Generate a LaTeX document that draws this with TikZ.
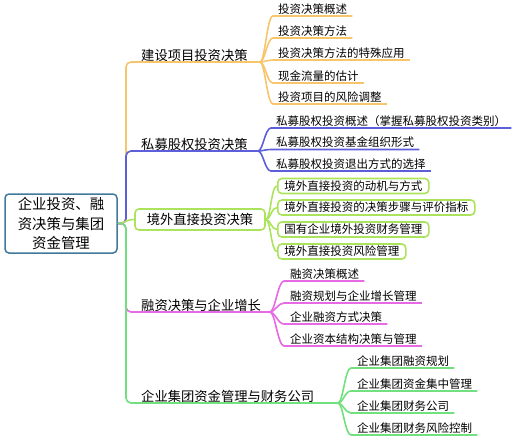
\documentclass[tikz,border=0pt]{standalone}
\usepackage{fontspec}
\setmainfont{Noto Sans CJK SC}
\usetikzlibrary{calc}
\definecolor{cA}{HTML}{F7C56C}
\definecolor{cB}{HTML}{5C5EDA}
\definecolor{cC}{HTML}{ABE45C}
\definecolor{cD}{HTML}{E56AE3}
\definecolor{cE}{HTML}{72E07E}
\definecolor{rootc}{HTML}{41789B}
\begin{document}
\begin{tikzpicture}[x=1pt,y=-1pt,
  rootbox/.style={draw=rootc, line width=1.5pt, rounded corners=4pt, fill=white,
    minimum width=112pt, minimum height=59pt, align=center, inner sep=0pt,
    font=\fontsize{14.4}{19.5}\selectfont},
  mainlbl/.style={anchor=west, inner sep=0pt, font=\fontsize{13.3}{16}\selectfont},
  mainbox/.style={draw=cC, line width=1.6pt, rounded corners=4pt, fill=white,
    minimum width=130pt, minimum height=21pt, inner sep=0pt, font=\fontsize{13.3}{16}\selectfont},
  leaf/.style={anchor=west, inner sep=0pt, font=\fontsize{11.5}{14}\selectfont},
  leafbox/.style={anchor=west, draw=cC, line width=1.6pt, rounded corners=4pt, fill=white,
    inner xsep=6.5pt, inner ysep=0pt, minimum height=15pt, font=\fontsize{11.5}{14}\selectfont},
  lnA/.style={draw=cA, line width=1.6pt},
  lnB/.style={draw=cB, line width=1.6pt},
  lnC/.style={draw=cC, line width=1.6pt},
  lnD/.style={draw=cD, line width=1.6pt},
  lnE/.style={draw=cE, line width=1.6pt}]
\useasboundingbox (0,0) rectangle (525,442);

% root
\node[rootbox] (root) at (61,223.5) {企业投资、融\\资决策与集团\\资金管理};

% main branches
\node[mainlbl] (m1) at (141,55) {建设项目投资决策};
\node[mainlbl] (m2) at (141,144) {私募股权投资决策};
\node[mainbox] (m3) at (200,219.5) {境外直接投资决策};
\node[mainlbl] (m4) at (141,305) {融资决策与企业增长};
\node[mainlbl] (m5) at (141,396) {企业集团资金管理与财务公司};

\coordinate (f1) at (260,62);
\coordinate (f2) at (258,151);
\coordinate (f4) at (270,312);
\coordinate (f5) at (338,403);

\draw[lnA, rounded corners=5pt] (root.east) -- (126,223.5) -- (126,62) -- (f1);
\draw[lnB, rounded corners=5pt] (root.east) -- (126,223.5) -- (126,151) -- (f2);
\draw[lnC] (root.east) .. controls (124,223.5) and (126,219.5) .. (m3.west);
\draw[lnD, rounded corners=5pt] (root.east) -- (126,223.5) -- (126,312) -- (f4);
\draw[lnE, rounded corners=5pt] (root.east) -- (126,223.5) -- (126,403) -- (f5);

% group 1
\node[leaf] (a1) at (278,9) {投资决策概述};
\node[leaf] (a2) at (278,31) {投资决策方法};
\node[leaf] (a3) at (278,53) {投资决策方法的特殊应用};
\node[leaf] (a4) at (278,76) {现金流量的估计};
\node[leaf] (a5) at (278,97) {投资项目的风险调整};
\foreach \n in {a1,a2,a3,a4,a5}
  \draw[lnA] (f1) .. controls +(5,0) and +(-6,0) .. ($(\n.west)+(-5,7)$) -- ($(\n.east)+(5,7)$);

% group 2
\node[leaf] (b1) at (276,121) {私募股权投资概述（掌握私募股权投资类别）};
\node[leaf] (b2) at (276,142.5) {私募股权投资基金组织形式};
\node[leaf] (b3) at (276,164) {私募股权投资退出方式的选择};
\foreach \n in {b1,b2,b3}
  \draw[lnB] (f2) .. controls +(5,0) and +(-6,0) .. ($(\n.west)+(-5,7)$) -- ($(\n.east)+(5,7)$);

% group 3
\node[leafbox] (c1) at (277,186) {境外直接投资的动机与方式};
\node[leafbox] (c2) at (277,207.5) {境外直接投资的决策步骤与评价指标};
\node[leafbox] (c3) at (277,229.5) {国有企业境外投资财务管理};
\node[leafbox] (c4) at (277,251.5) {境外直接投资风险管理};
\foreach \n in {c1,c2,c3,c4}
  \draw[lnC] (m3.east) .. controls +(5,0) and +(-6,0) .. (\n.west);

% group 4
\node[leaf] (d1) at (290,274) {融资决策概述};
\node[leaf] (d2) at (290,296) {融资规划与企业增长管理};
\node[leaf] (d3) at (290,317) {企业融资方式决策};
\node[leaf] (d4) at (290,339) {企业资本结构决策与管理};
\foreach \n in {d1,d2,d3,d4}
  \draw[lnD] (f4) .. controls +(5,0) and +(-6,0) .. ($(\n.west)+(-6,7)$) -- ($(\n.east)+(5,7)$);

% group 5
\node[leaf] (e1) at (357,361) {企业集团融资规划};
\node[leaf] (e2) at (357,384) {企业集团资金集中管理};
\node[leaf] (e3) at (357,406) {企业集团财务公司};
\node[leaf] (e4) at (357,428) {企业集团财务风险控制};
\foreach \n in {e1,e2,e3,e4}
  \draw[lnE] (f5) .. controls +(5,0) and +(-6,0) .. ($(\n.west)+(-6,7)$) -- ($(\n.east)+(5,7)$);
\end{tikzpicture}
\end{document}
